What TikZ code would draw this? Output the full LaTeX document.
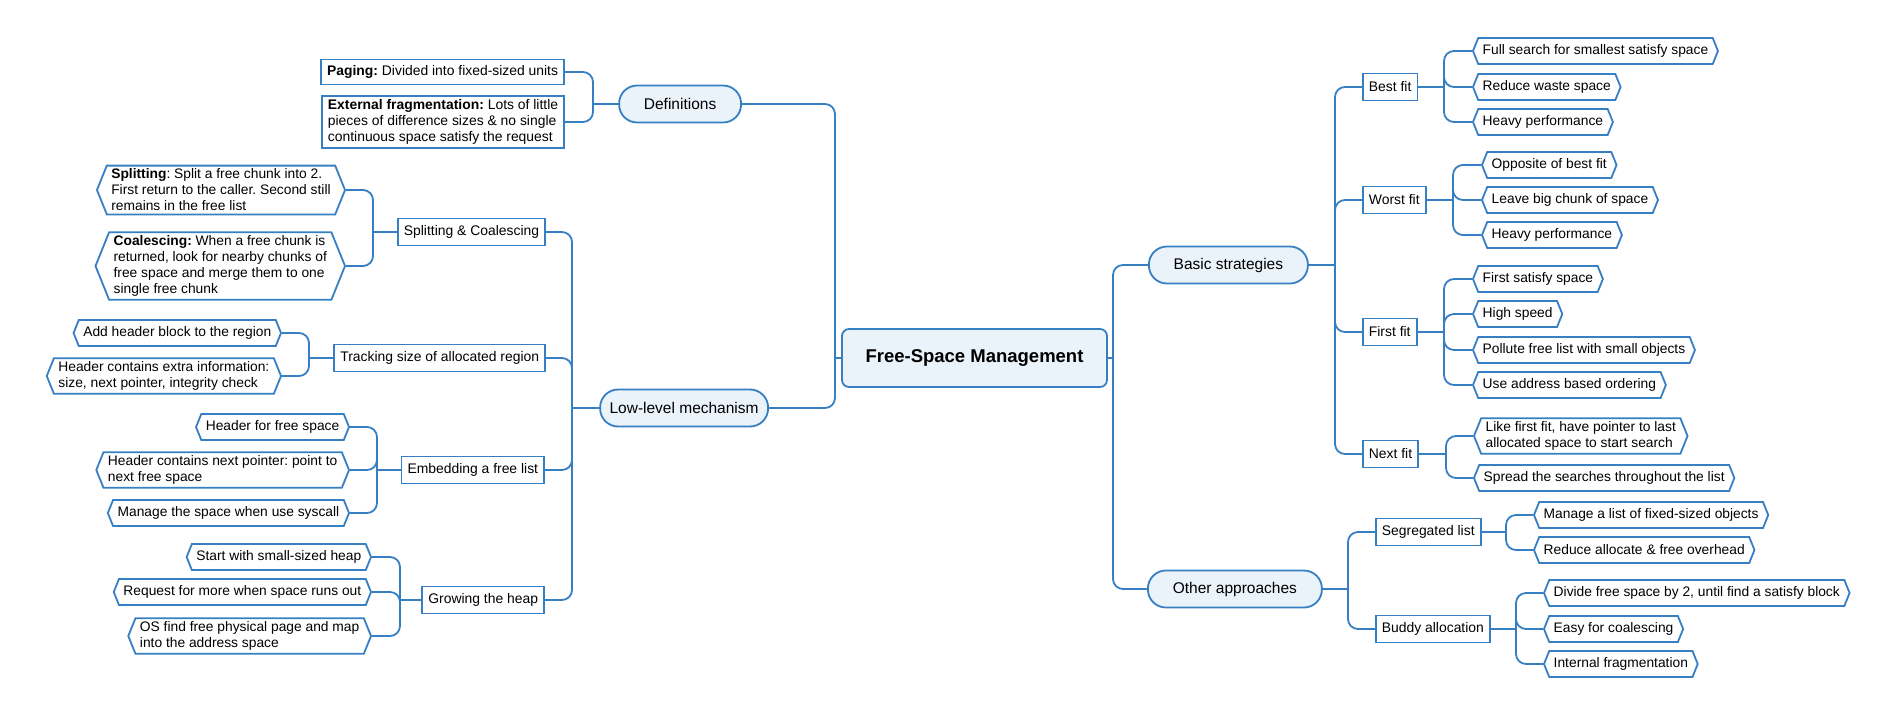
\documentclass[tikz,border=0pt]{standalone}
\usepackage{fontspec}
\setmainfont{Liberation Sans}
\frenchspacing
\usetikzlibrary{shapes.symbols}
\definecolor{mapblue}{RGB}{55,127,195}
\definecolor{mapfill}{RGB}{234,242,250}
\tikzset{
  conn/.style={draw=mapblue,line width=1.8pt,rounded corners=10pt},
  topic/.style={draw=mapblue,fill=mapfill,line width=1.8pt,rounded corners=7pt,
    minimum width=265pt,minimum height=58pt,font=\fontsize{18.5}{22}\selectfont\bfseries},
  mainbox/.style={draw=mapblue,fill=mapfill,line width=1.8pt,rounded corners=18pt,
    minimum height=37pt,inner xsep=8pt,font=\fontsize{15.5}{19}\selectfont},
  subbox/.style={draw=mapblue,fill=white,line width=1.8pt,minimum height=27pt,
    inner xsep=6pt,align=left,font=\fontsize{13.9}{16}\selectfont},
  leafbox/.style={signal,signal to=east and west,signal pointer angle=136,
    draw=mapblue,fill=white,line width=1.8pt,minimum height=26pt,inner xsep=4.5pt,
    align=left,font=\fontsize{13.8}{16}\selectfont},
}
\begin{document}
\begin{tikzpicture}[x=1pt,y=-1pt]
\useasboundingbox (0,0) rectangle (1885,716);
% central topic and main branches
\node[topic] (root) at (974.5,358) {Free-Space Management};
\node[mainbox,anchor=east,minimum width=122pt] (defs) at (742,104) {Definitions};
\node[mainbox,anchor=east,minimum width=168pt] (low) at (769,408) {Low-level mechanism};
\node[mainbox,anchor=west,minimum width=159pt] (basic) at (1148,265) {Basic strategies};
\node[mainbox,anchor=west,minimum width=174pt] (other) at (1147,589) {Other approaches};
\coordinate (jrootl) at (835,358);
\coordinate (jrootr) at (1113,358);
\draw[conn] (root.west) -- (jrootl);
\draw[conn] (root.east) -- (jrootr);
\foreach \n in {defs,low} \draw[conn] (jrootl) |- (\n.east);
\foreach \n in {basic,other} \draw[conn] (jrootr) |- (\n.west);
%
% Definitions
\node[subbox,anchor=east,minimum height=25pt] (paging) at (565,72) {\textbf{Paging:} Divided into fixed-sized units};
\node[subbox,anchor=east] (extfrag) at (565,122) {\textbf{External fragmentation:} Lots of little\\pieces of difference sizes \& no single\\continuous space satisfy the request};
\coordinate (jdefs) at (593,104);
\draw[conn] (defs.west) -- (jdefs);
\foreach \n in {paging,extfrag} \draw[conn] (jdefs) |- (\n.east);
%
% Low-level mechanism
\node[subbox,anchor=east] (splitco) at (546,232) {Splitting \& Coalescing};
\node[subbox,anchor=east] (track) at (546,358) {Tracking size of allocated region};
\node[subbox,anchor=east] (embed) at (545,470) {Embedding a free list};
\node[subbox,anchor=east] (grow) at (545,600) {Growing the heap};
\coordinate (jlow) at (572,408);
\draw[conn] (low.west) -- (jlow);
\foreach \n in {splitco,track,embed,grow} \draw[conn] (jlow) |- (\n.east);
%
\node[leafbox,anchor=east] (split) at (346,190) {\textbf{Splitting}: Split a free chunk into 2.\\First return to the caller. Second still\\remains in the free list};
\node[leafbox,anchor=east] (coal) at (346,266) {\textbf{Coalescing:} When a free chunk is\\returned, look for nearby chunks of\\free space and merge them to one\\single free chunk};
\coordinate (jsplitco) at (373,232);
\draw[conn] (splitco.west) -- (jsplitco);
\foreach \n in {split,coal} \draw[conn] (jsplitco) |- (\n.east);
%
\node[leafbox,anchor=east] (addhdr) at (282,333) {Add header block to the region};
\node[leafbox,anchor=east] (hdrinfo) at (282,376) {Header contains extra information:\\size, next pointer, integrity check};
\coordinate (jtrack) at (309,358);
\draw[conn] (track.west) -- (jtrack);
\foreach \n in {addhdr,hdrinfo} \draw[conn] (jtrack) |- (\n.east);
%
\node[leafbox,anchor=east] (hdrfree) at (350,427) {Header for free space};
\node[leafbox,anchor=east] (hdrnext) at (350,470) {Header contains next pointer: point to\\next free space};
\node[leafbox,anchor=east] (syscall) at (350,513) {Manage the space when use syscall};
\coordinate (jembed) at (377,470);
\draw[conn] (embed.west) -- (jembed);
\foreach \n in {hdrfree,hdrnext,syscall} \draw[conn] (jembed) |- (\n.east);
%
\node[leafbox,anchor=east] (smallheap) at (372,557) {Start with small-sized heap};
\node[leafbox,anchor=east] (askmore) at (372,592) {Request for more when space runs out};
\node[leafbox,anchor=east] (ospage) at (372,636) {OS find free physical page and map\\into the address space};
\coordinate (jgrow) at (400,600);
\draw[conn] (grow.west) -- (jgrow);
\foreach \n in {smallheap,askmore,ospage} \draw[conn] (jgrow) |- (\n.east);
%
% Basic strategies
\node[subbox,anchor=west] (best) at (1362,87) {Best fit};
\node[subbox,anchor=west] (worst) at (1362,200) {Worst fit};
\node[subbox,anchor=west] (first) at (1362,332) {First fit};
\node[subbox,anchor=west] (next) at (1362,454) {Next fit};
\coordinate (jbasic) at (1335,265);
\draw[conn] (basic.east) -- (jbasic);
\foreach \n in {best,worst,first,next} \draw[conn] (jbasic) |- (\n.west);
%
\node[leafbox,anchor=west] (bestA) at (1472,51) {Full search for smallest satisfy space};
\node[leafbox,anchor=west] (bestB) at (1472,87) {Reduce waste space};
\node[leafbox,anchor=west] (bestC) at (1472,122) {Heavy performance};
\coordinate (jbest) at (1444,87);
\draw[conn] (best.east) -- (jbest);
\foreach \n in {bestA,bestB,bestC} \draw[conn] (jbest) |- (\n.west);
%
\node[leafbox,anchor=west] (worstA) at (1481,165) {Opposite of best fit};
\node[leafbox,anchor=west] (worstB) at (1481,200) {Leave big chunk of space};
\node[leafbox,anchor=west] (worstC) at (1481,235) {Heavy performance};
\coordinate (jworst) at (1453,200);
\draw[conn] (worst.east) -- (jworst);
\foreach \n in {worstA,worstB,worstC} \draw[conn] (jworst) |- (\n.west);
%
\node[leafbox,anchor=west] (firstA) at (1472,279) {First satisfy space};
\node[leafbox,anchor=west] (firstB) at (1472,314) {High speed};
\node[leafbox,anchor=west] (firstC) at (1472,350) {Pollute free list with small objects};
\node[leafbox,anchor=west] (firstD) at (1472,385) {Use address based ordering};
\coordinate (jfirst) at (1444,332);
\draw[conn] (first.east) -- (jfirst);
\foreach \n in {firstA,firstB,firstC,firstD} \draw[conn] (jfirst) |- (\n.west);
%
\node[leafbox,anchor=west] (nextA) at (1473,436) {Like first fit, have pointer to last\\allocated space to start search};
\node[leafbox,anchor=west] (nextB) at (1473,478) {Spread the searches throughout the list};
\coordinate (jnext) at (1446,454);
\draw[conn] (next.east) -- (jnext);
\foreach \n in {nextA,nextB} \draw[conn] (jnext) |- (\n.west);
%
% Other approaches
\node[subbox,anchor=west] (seg) at (1375,532) {Segregated list};
\node[subbox,anchor=west] (buddy) at (1375,629) {Buddy allocation};
\coordinate (jother) at (1348,589);
\draw[conn] (other.east) -- (jother);
\foreach \n in {seg,buddy} \draw[conn] (jother) |- (\n.west);
%
\node[leafbox,anchor=west] (segA) at (1533,515) {Manage a list of fixed-sized objects};
\node[leafbox,anchor=west] (segB) at (1533,550) {Reduce allocate \& free overhead};
\coordinate (jseg) at (1506,532);
\draw[conn] (seg.east) -- (jseg);
\foreach \n in {segA,segB} \draw[conn] (jseg) |- (\n.west);
%
\node[leafbox,anchor=west] (buddyA) at (1543,593) {Divide free space by 2, until find a satisfy block};
\node[leafbox,anchor=west] (buddyB) at (1543,629) {Easy for coalescing};
\node[leafbox,anchor=west] (buddyC) at (1543,664) {Internal fragmentation};
\coordinate (jbuddy) at (1516,629);
\draw[conn] (buddy.east) -- (jbuddy);
\foreach \n in {buddyA,buddyB,buddyC} \draw[conn] (jbuddy) |- (\n.west);
\end{tikzpicture}
\end{document}
